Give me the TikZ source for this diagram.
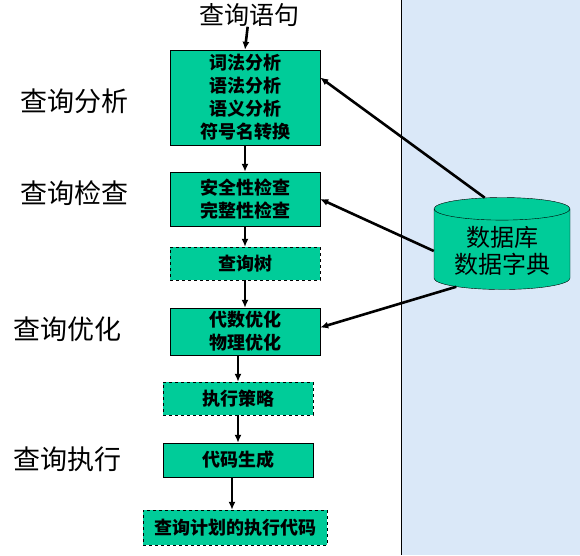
\documentclass[tikz,border=0pt]{standalone}
\usepackage{fontspec}
\setmainfont{Noto Sans CJK SC}
\usepackage[HTML]{xcolor}
\usetikzlibrary{positioning, arrows.meta, shapes.geometric}

\definecolor{boxgreen}{HTML}{00CC99}
\definecolor{panelblue}{HTML}{DAE8F8}

\begin{document}
\begin{tikzpicture}[x=1pt, y=-1pt,
  stage/.style={draw=black, thin, fill=boxgreen, align=center, font=\fontsize{18}{23}\selectfont\bfseries, inner sep=0pt},
  dstage/.style={stage, dashed},
  phase/.style={font=\fontsize{27}{30}\selectfont, inner sep=0pt},
  flow/.style={-{Latex[length=8pt,width=7pt]}, line width=2.6pt}]
\useasboundingbox (0,0) rectangle (580,555);

% --- Right panel ---
\fill[panelblue] (401,0) rectangle (580,555);
\draw[thin] (401,0) -- (401,555);

% --- Title and phase labels ---
\node[phase, font=\fontsize{25}{28}\selectfont] (title) at (249,15) {查询语句};
\node[phase] (lbla) at (74,101) {查询分析};
\node[phase] (lblb) at (74,193) {查询检查};
\node[phase] (lblc) at (67,329) {查询优化};
\node[phase] (lbld) at (67,459) {查询执行};

% --- Stage boxes ---
\node[stage, minimum width=150pt, minimum height=95pt] (parse) at (245,97.5) {词法分析\\语法分析\\语义分析\\符号名转换};
\node[stage, minimum width=150pt, minimum height=54pt] (check) at (245,199) {安全性检查\\完整性检查};
\node[dstage, minimum width=150pt, minimum height=33pt] (tree) at (245,263.5) {查询树};
\node[stage, minimum width=150pt, minimum height=47pt] (optim) at (245,331.5) {代数优化\\物理优化};
\node[dstage, minimum width=150pt, minimum height=33pt] (plan) at (238,398.5) {执行策略};
\node[stage, minimum width=150pt, minimum height=34pt] (gen) at (238,460) {代码生成};
\node[dstage, minimum width=184pt, minimum height=35pt] (code) at (235,527.5) {查询计划的执行代码};

% --- Data dictionary ---
\node[cylinder, shape border rotate=90, aspect=0.22, draw=black, thin, fill=boxgreen,
      minimum width=136pt, minimum height=92pt, align=center,
      font=\fontsize{24}{27}\selectfont] (dict) at (502,251) {数据库\\数据字典};

% --- Main flow ---
\draw[flow] (title) -- (parse.north);
\draw[flow] (parse) -- (check);
\draw[flow] (check) -- (tree);
\draw[flow] (tree) -- (optim);
\draw[flow] (optim.south -| plan.north) -- (plan.north);
\draw[flow] (plan) -- (gen);
\draw[flow] ([xshift=-6pt]gen.south) -- ([xshift=-3pt]code.north);

% --- Dictionary lookups ---
\draw[flow] (dict.108) -- ([yshift=20pt]parse.east);
\draw[flow] (dict.west) -- (check.east);
\draw[flow] (dict.218) -- ([yshift=4pt]optim.east);
\end{tikzpicture}
\end{document}
